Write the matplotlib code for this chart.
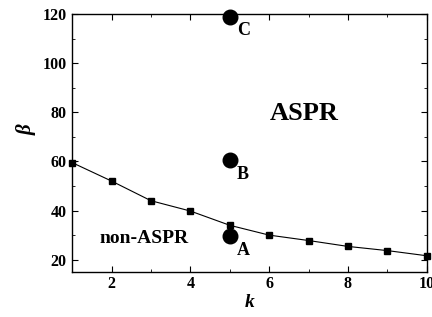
import matplotlib
matplotlib.use("Agg")
import matplotlib.pyplot as plt
from matplotlib.ticker import MultipleLocator

# boundary curve (non-ASPR / ASPR)
k_vals = [1, 2, 3, 4, 5, 6, 7, 8, 9, 10]
beta_vals = [59.5, 52, 44, 39.8, 34, 30, 27.8, 25.4, 23.7, 21.6]

# labelled points
pt_names = ["A", "B", "C"]
pt_k = [5, 5, 5]
pt_beta = [29.5, 60.5, 118.8]

plt.rcParams["font.family"] = ["Liberation Serif", "DejaVu Serif"]
plt.rcParams["font.weight"] = "bold"

fig = plt.figure(figsize=(4.32, 3.17), dpi=100)
ax = fig.add_axes([0.167, 0.142, 0.821, 0.814])

ax.plot(k_vals, beta_vals, color="black", linewidth=0.8, marker="s",
        markersize=4, clip_on=False, zorder=3)
ax.scatter(pt_k, pt_beta, s=110, color="black", zorder=4, clip_on=False)
for name, x, y in zip(pt_names, pt_k, pt_beta):
    ax.annotate(name, (x, y), xytext=(5, -4), textcoords="offset points",
                ha="left", va="top", fontsize=13, fontweight="bold")

ax.text(6.88, 79.6, "ASPR", fontsize=19, fontweight="bold", ha="center", va="center")
ax.text(2.83, 28.8, "non-ASPR", fontsize=14, fontweight="bold", ha="center", va="center")

ax.set_xlim(1, 10)
ax.set_ylim(15, 120)
ax.xaxis.set_major_locator(MultipleLocator(2))
ax.xaxis.set_minor_locator(MultipleLocator(1))
ax.yaxis.set_major_locator(MultipleLocator(20))
ax.yaxis.set_minor_locator(MultipleLocator(10))
ax.set_yticks([20, 40, 60, 80, 100, 120])
ax.tick_params(which="both", direction="in", top=True, right=True,
               labelsize=11.5, pad=4)
ax.tick_params(axis="x", pad=3)
ax.tick_params(which="major", length=4)
ax.tick_params(which="minor", length=2.5)
for lab in ax.get_xticklabels() + ax.get_yticklabels():
    lab.set_fontweight("bold")

ax.set_xlabel("k", fontsize=14, fontweight="bold", fontstyle="italic", labelpad=1)
ax.set_ylabel("β", fontsize=15, fontweight="bold", fontstyle="italic")
ax.yaxis.set_label_coords(-0.10, 0.55)

for sp in ax.spines.values():
    sp.set_linewidth(1.0)

fig.savefig("out.png", dpi=100)
